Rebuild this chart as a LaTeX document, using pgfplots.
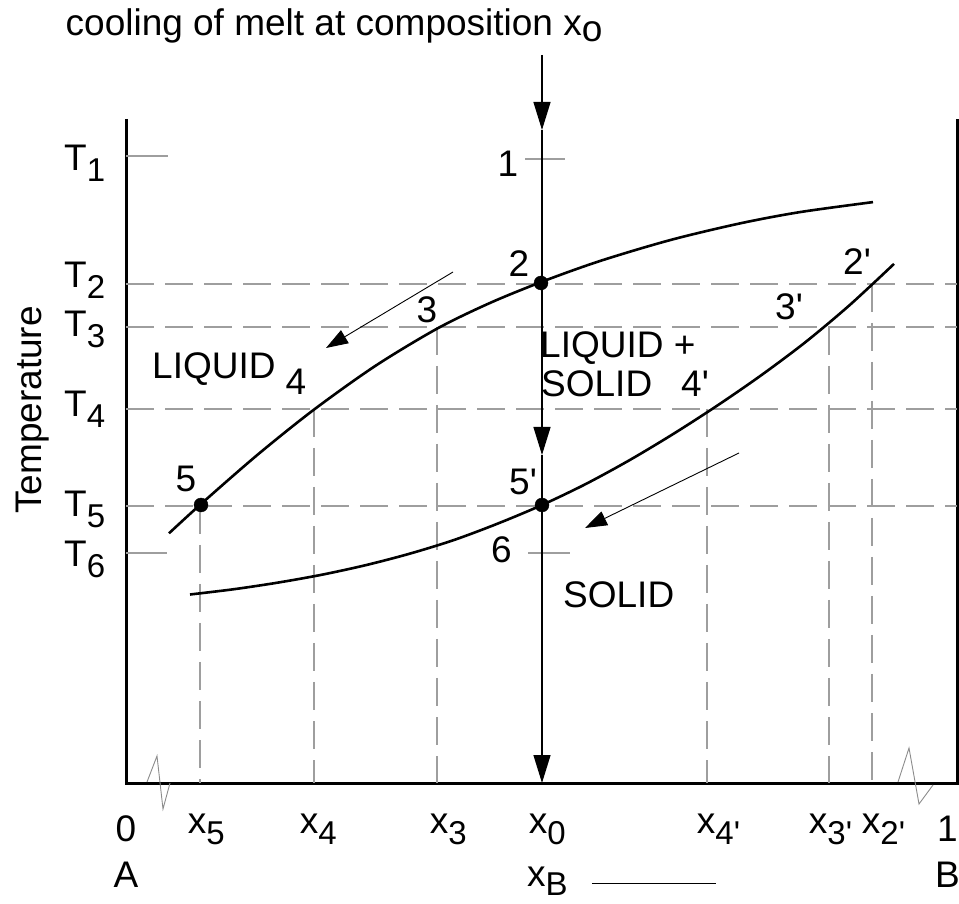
\documentclass[border=0pt]{standalone}
\usepackage{pgfplots}
\pgfplotsset{compat=1.18}
\usepackage{fontspec}
\setmainfont{Liberation Sans}
\usetikzlibrary{arrows.meta}
\newcommand\fsz{\fontsize{37}{45}\selectfont}
\newcommand\sub[1]{\raisebox{-11pt}{\fontsize{33}{33}\selectfont #1}}
\newcommand\q{\textquotesingle}
\begin{document}
\begin{tikzpicture}[font=\fsz,
    gridline/.style={black!38, line width=1.3pt, dash pattern=on 28pt off 11pt},
    tickline/.style={black!38, line width=1.3pt},
    curve/.style={black, line width=2.6pt, smooth},
    lbl/.style={inner sep=0pt, font=\fsz},
    small arrow/.style={black, line width=0.9pt, -{Triangle[length=22pt,width=15pt]}},
    main arrow/.style={black, line width=1.3pt, -{Triangle[length=28pt,width=17pt]}},
  ]
\begin{axis}[
    at={(126pt,120pt)}, anchor=south west,
    scale only axis, width=831pt, height=664pt,
    xmin=126, xmax=957, ymin=120, ymax=784,
    clip=false,
    axis line style={draw=none},
    major tick length=0pt,
    /pgf/number format/assume math mode=true,
    every tick label/.append style={font=\fsz},
    xtick={126,206.4,318.4,448.4,547.4,718.5,830.5,883.5,947.5},
    xticklabels={
      {\begin{tabular}[t]{@{}c@{}}\raisebox{-8pt}{0}\\[9pt]A\end{tabular}},
      x\sub{5}, x\sub{4}, x\sub{3}, x\sub{0},
      x\sub{4\q}, x\sub{3\q}, x\sub{2\q},
      {\begin{tabular}[t]{@{}c@{}}\raisebox{-8pt}{1}\\[9pt]B\end{tabular}}},
    xticklabel style={anchor=base, inner sep=0pt, yshift=-50pt},
    ytick={732,615,566,486,386,336},
    yticklabels={T\sub{1}, T\sub{2}, T\sub{3}, T\sub{4}, T\sub{5}, T\sub{6}},
    yticklabel style={anchor=base west, inner sep=0pt, xshift=-62pt},
    xlabel={x\raisebox{-9pt}{\fontsize{33}{33}\selectfont B}\hspace{24pt}\rule[3pt]{124pt}{1.2pt}},
    xlabel style={at={(axis description cs:0.4826,-0.1566)}, anchor=base west, inner sep=0pt, font=\fsz},
    ylabel={Temperature},
    ylabel style={at={(axis description cs:-0.1011,0.5617)}, anchor=base, inner sep=0pt, font=\fsz},
    title={cooling of melt at composition x\raisebox{-6pt}{o}},
    title style={at={(axis description cs:-0.0728,1.125)}, anchor=base west, inner sep=0pt, yshift=-6pt, font=\fsz},
  ]
% frame: left, bottom, right
\addplot[black, line width=3pt] coordinates {(126,784) (126,120) (957,120) (957,784)};

% horizontal temperature levels
\addplot[gridline] coordinates {(126,619) (957,619)};
\addplot[gridline] coordinates {(126,576) (957,576)};
\addplot[gridline] coordinates {(126,494) (957,494)};
\addplot[gridline] coordinates {(126,397) (957,397)};
\addplot[tickline] coordinates {(126,747) (168,747)};
\addplot[tickline] coordinates {(525,744) (565,744)};
\addplot[tickline] coordinates {(126,350) (167,350)};
\addplot[tickline] coordinates {(528,350) (570,350)};

% vertical composition drops
\addplot[gridline] coordinates {(200,397) (200,120)};
\addplot[gridline] coordinates {(314,494) (314,120)};
\addplot[gridline] coordinates {(437,576) (437,120)};
\addplot[gridline] coordinates {(707,494) (707,120)};
\addplot[gridline] coordinates {(829,576) (829,120)};
\addplot[gridline] coordinates {(872,619) (872,120)};

% axis breaks
\addplot[black!45, line width=0.9pt] coordinates {(147,121) (157,147) (163,94) (170,120)};
\addplot[black!45, line width=0.9pt] coordinates {(898,121) (909,155) (919,99) (933,118)};

% cooling path at x0
\addplot[main arrow] coordinates {(542,848) (542,773)};
\addplot[main arrow] coordinates {(542,773) (542,448)};
\addplot[main arrow] coordinates {(542,448) (542,120)};

% liquidus
\addplot[curve] coordinates {
  (169,369.7) (201,399) (257.5,448.2) (314,493.4) (375.5,537.2) (437,574.3)
  (489,599.6) (541,620.9) (600,642) (670.5,663) (740,679.6) (800,690.9) (873,700.9)};
% solidus
\addplot[curve] coordinates {
  (190,308.5) (234,313.8) (278,320.4) (322,328.3) (366,337.9) (410,349.4)
  (454,363.0) (498,379.5) (542,398) (586,419.1) (630,443.1) (674,469.5)
  (718,497.9) (762,528.3) (806,561.3) (850,598.2) (894,639.1)};

\addplot[only marks, mark=*, mark size=7pt, black] coordinates {(201,398) (541,620) (542,398)};

% direction arrows
\addplot[small arrow] coordinates {(453,631) (326,555)};
\addplot[small arrow] coordinates {(739,450) (585,375)};

% point labels
\node[lbl, anchor=base] at (axis cs:508,726) {1};
\node[lbl, anchor=base] at (axis cs:519,626) {2};
\node[lbl, anchor=base] at (axis cs:427,580) {3};
\node[lbl, anchor=base] at (axis cs:296,508) {4};
\node[lbl, anchor=base] at (axis cs:186,411) {5};
\node[lbl, anchor=base west] at (axis cs:509,408) {5\q};
\node[lbl, anchor=base] at (axis cs:501.5,340) {6};
\node[lbl, anchor=base west] at (axis cs:843,628) {2\q};
\node[lbl, anchor=base west] at (axis cs:775,583) {3\q};
\node[lbl, anchor=base west] at (axis cs:681,506) {4\q};

% region labels
\node[lbl, anchor=base west] at (axis cs:152,524) {LIQUID};
\node[lbl, anchor=base west] at (axis cs:540,545) {LIQUID +};
\node[lbl, anchor=base west] at (axis cs:541,506) {SOLID};
\node[lbl, anchor=base west] at (axis cs:563,295) {SOLID};
\end{axis}
\pgfresetboundingbox
\path[use as bounding box] (0,0) rectangle (959pt,903pt);
\end{tikzpicture}
\end{document}
